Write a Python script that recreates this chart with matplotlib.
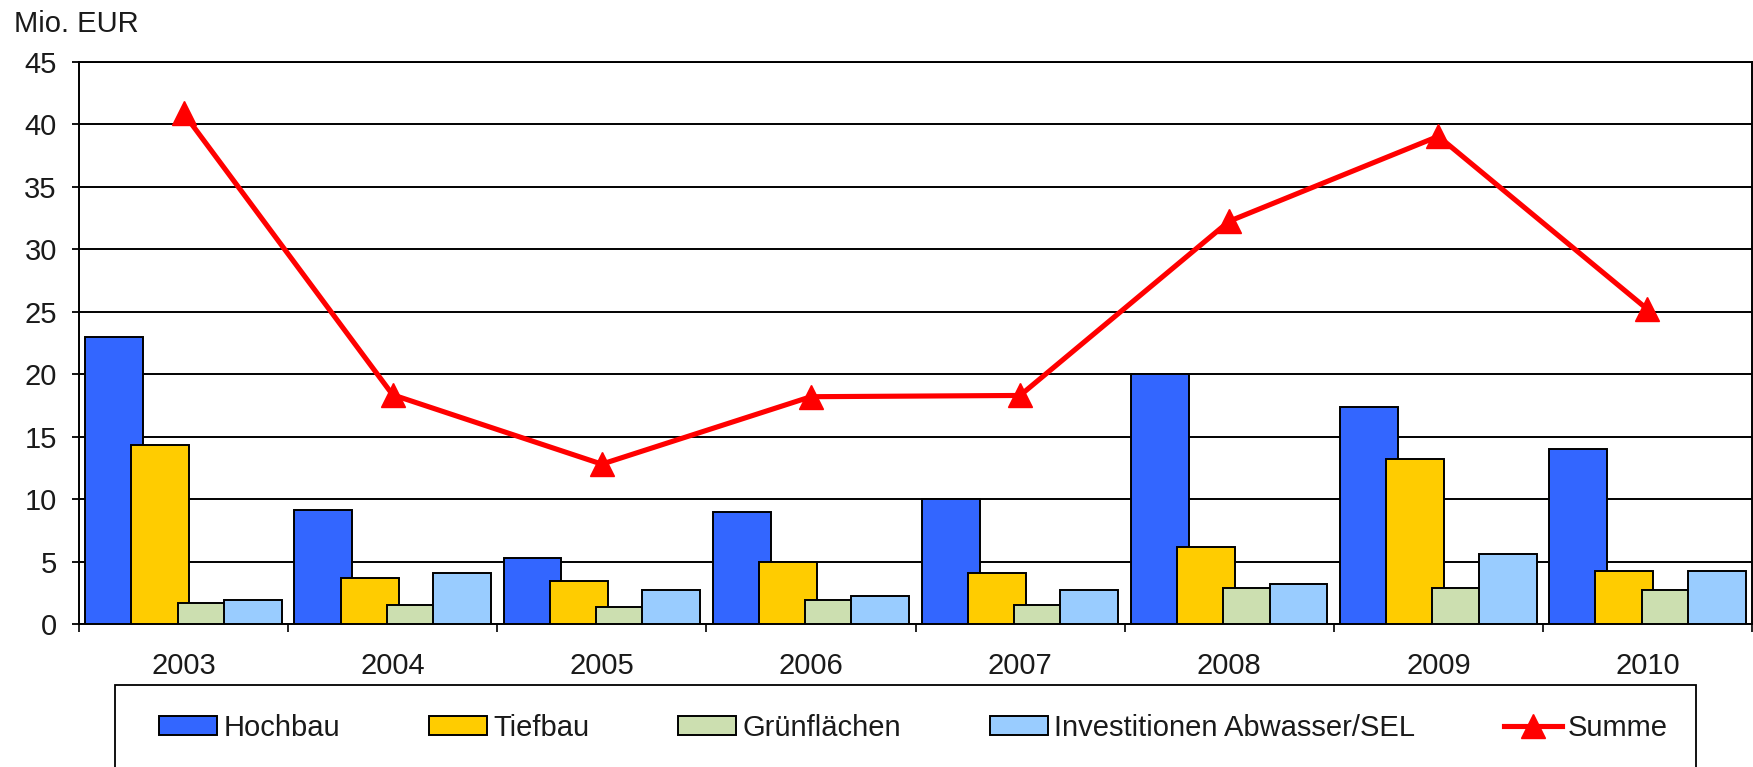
import matplotlib
matplotlib.use("Agg")
import matplotlib.pyplot as plt
from matplotlib.patches import Rectangle
import numpy as np

plt.rcParams['font.family'] = ['Liberation Sans', 'DejaVu Sans']

years = ["2003", "2004", "2005", "2006", "2007", "2008", "2009", "2010"]
hochbau = [23.0, 9.1, 5.3, 9.0, 10.0, 20.0, 17.35, 14.0]
tiefbau = [14.3, 3.65, 3.45, 5.0, 4.1, 6.2, 13.25, 4.25]
gruenflaechen = [1.65, 1.5, 1.35, 1.95, 1.5, 2.85, 2.85, 2.7]
abwasser = [1.95, 4.1, 2.7, 2.25, 2.7, 3.2, 5.6, 4.25]
summe = [40.9, 18.35, 12.8, 18.2, 18.3, 32.25, 39.05, 25.2]

series_names = ["Hochbau", "Tiefbau", "Grünflächen", "Investitionen Abwasser/SEL"]
series_vals = [hochbau, tiefbau, gruenflaechen, abwasser]
colors = ["#3366FF", "#FFCC00", "#CCDFB0", "#99CCFF"]

FS = 21
TXT = "#1a1a1a"

W, H = 1753, 767
fig = plt.figure(figsize=(W / 100, H / 100), dpi=100)
ax = fig.add_axes([79 / W, 1 - 624 / H, (1752 - 79) / W, (624 - 62) / H])

x = np.arange(len(years))
step = 0.221
width = 0.277
handles = []
for i, (name, vals, c) in enumerate(zip(series_names, series_vals, colors)):
    b = ax.bar(x + (i - 1.5) * step, vals, width=width, color=c,
               edgecolor="black", linewidth=1.4, zorder=3 + i, label=name)
    handles.append(b)

ln, = ax.plot(x, summe, color="#FF0000", linewidth=3.7, marker="^",
              markersize=17, zorder=10, label="Summe")
handles.append(ln)

ax.set_xlim(-0.5, len(years) - 0.5)
ax.set_ylim(0, 45)
ax.set_yticks(np.arange(0, 46, 5))
ax.yaxis.grid(True, color="black", linewidth=1.4, zorder=0)
ax.set_axisbelow(True)

ax.set_xticks(np.arange(-0.5, len(years), 1.0))
ax.set_xticklabels([])
ax.set_xticks(x, minor=True)
ax.set_xticklabels(years, minor=True)
ax.tick_params(axis="x", which="major", direction="out", length=6,
               width=1.2, color="black")
ax.tick_params(axis="x", which="minor", length=0, pad=20, labelsize=FS,
               labelcolor=TXT)
ax.tick_params(axis="y", direction="out", length=5, width=1.3, pad=11,
               labelsize=FS, labelcolor=TXT)
for s in ax.spines.values():
    s.set_color("black")
    s.set_linewidth(1.4)

fig.text(14 / W, 1 - 32 / H, "Mio. EUR", fontsize=FS, va="baseline",
         ha="left", color=TXT)

# legend frame
fig.patches.append(Rectangle((115 / W, 1 - 775 / H), (1696 - 115) / W,
                             (775 - 685) / H, transform=fig.transFigure,
                             fill=False, edgecolor="black", linewidth=1.3))
leg = fig.legend(handles=handles, labels=series_names + ["Summe"],
                 loc="center left", bbox_to_anchor=(159 / W, 1 - 728 / H),
                 ncol=5, frameon=False, fontsize=FS, borderpad=0,
                 borderaxespad=0,
                 handlelength=2.0, handleheight=0.6, handletextpad=0.2,
                 columnspacing=3.05)
for t in leg.get_texts():
    t.set_color(TXT)

fig.savefig("out.png", dpi=100)
